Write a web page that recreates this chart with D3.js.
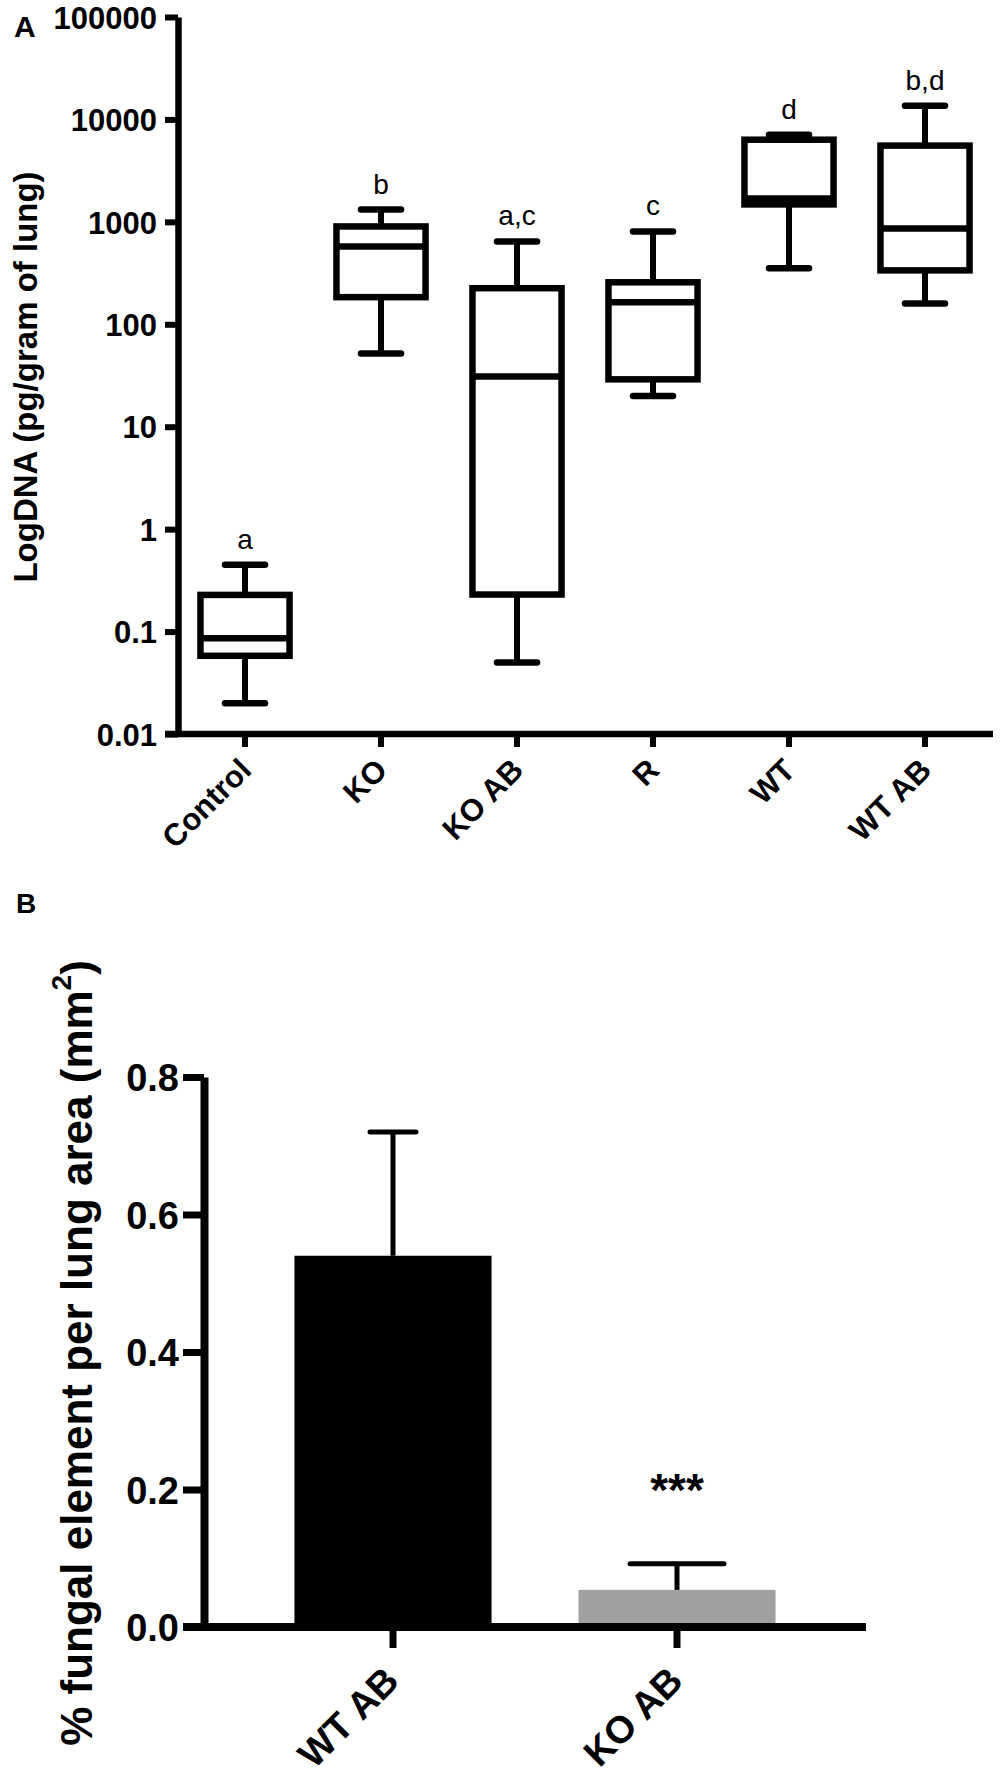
<!DOCTYPE html>
<html>
<head>
<meta charset="utf-8">
<script src="https://cdn.jsdelivr.net/npm/d3@7"></script>
<style>
  body { margin: 0; background: #fff; }
  text { font-family: "Liberation Sans", Arial, sans-serif; }
</style>
</head>
<body>
<div id="chart"></div>
<script>
// Panel A: box plots (log scale)
const categories = ["Control", "KO", "KO AB", "R", "WT", "WT AB"];
const whiskerLow  = [0.020, 52, 0.050, 20, 352, 160];
const q1          = [0.058, 184, 0.23, 29, 1480, 336];
const median      = [0.086, 576, 31, 164, 1690, 862];
const q3          = [0.228, 902, 225, 257, 6340, 5550];
const whiskerHigh = [0.45, 1320, 644, 807, 7100, 13600];
const groupLetters = ["a", "b", "a,c", "c", "d", "b,d"];
const logTicks = [0.01, 0.1, 1, 10, 100, 1000, 10000, 100000];
const logTickLabels = ["0.01", "0.1", "1", "10", "100", "1000", "10000", "100000"];

// Panel B: bars with SEM
const barGroups = ["WT AB", "KO AB"];
const barMeans = [0.54, 0.054];
const barErrTop = [0.72, 0.092];
const barStars = ["", "***"];
const linTicks = [0.0, 0.2, 0.4, 0.6, 0.8];

const width = 1000, height = 1784;
const svg = d3.select("#chart").append("svg")
  .attr("width", width).attr("height", height);

// ---------- Panel A ----------
const boxes = categories.map((c, i) => ({
  cat: c, lo: whiskerLow[i], q1: q1[i], med: median[i], q3: q3[i], hi: whiskerHigh[i], letter: groupLetters[i]
}));

const xA = d3.scaleBand().domain(categories).range([177, 993]);
const yA = d3.scaleLog().domain([0.01, 100000]).range([734, 17]);
const boxW = xA.step() * 0.655;
const capHalf = 20;
const cx = d => xA(d.cat) + xA.bandwidth() / 2;

const gA = svg.append("g");

// y axis
const yAxisA = gA.append("g")
  .attr("transform", "translate(178,0)")
  .call(d3.axisLeft(yA).tickValues(logTicks)
    .tickFormat((d, i) => logTickLabels[i]).tickSize(13).tickSizeOuter(0).tickPadding(8));
yAxisA.select(".domain").attr("stroke-width", 6.5);
yAxisA.selectAll(".tick line").attr("stroke-width", 6);
yAxisA.selectAll(".tick text").attr("font-size", 31).attr("font-weight", "bold").attr("fill", "#000").attr("dy", "0.36em");

// x axis
const xAxisA = gA.append("g")
  .attr("transform", "translate(0,734)")
  .call(d3.axisBottom(xA).tickSize(13).tickSizeOuter(0));
xAxisA.select(".domain").attr("stroke-width", 6.5).attr("d", "M165,0H993");
xAxisA.selectAll(".tick line").attr("stroke-width", 6);
xAxisA.selectAll(".tick text")
  .attr("font-size", 31).attr("font-weight", "bold").attr("fill", "#000")
  .attr("text-anchor", "end")
  .attr("y", 0).attr("dy", 0)
  .attr("transform", "translate(8,38) rotate(-45)");

// whiskers
const bx = gA.selectAll(".box").data(boxes).enter().append("g").attr("class", "box");
bx.append("line")
  .attr("x1", cx).attr("x2", cx)
  .attr("y1", d => yA(d.hi)).attr("y2", d => yA(d.q3))
  .attr("stroke", "#000").attr("stroke-width", 6);
bx.append("line")
  .attr("x1", cx).attr("x2", cx)
  .attr("y1", d => yA(d.q1)).attr("y2", d => yA(d.lo))
  .attr("stroke", "#000").attr("stroke-width", 6);
["hi", "lo"].forEach(k => {
  bx.append("line")
    .attr("x1", d => cx(d) - capHalf).attr("x2", d => cx(d) + capHalf)
    .attr("y1", d => yA(d[k])).attr("y2", d => yA(d[k]))
    .attr("stroke", "#000").attr("stroke-width", 6.5).attr("stroke-linecap", "round");
});
// box
bx.append("rect")
  .attr("x", d => cx(d) - boxW / 2).attr("width", boxW)
  .attr("y", d => yA(d.q3)).attr("height", d => yA(d.q1) - yA(d.q3))
  .attr("fill", "#fff").attr("stroke", "#000").attr("stroke-width", 6.5);
// median
bx.append("line")
  .attr("x1", d => cx(d) - boxW / 2).attr("x2", d => cx(d) + boxW / 2)
  .attr("y1", d => yA(d.med)).attr("y2", d => yA(d.med))
  .attr("stroke", "#000").attr("stroke-width", 6.5);
// letters
bx.append("text")
  .attr("x", cx).attr("y", d => yA(d.hi) - 16)
  .attr("text-anchor", "middle").attr("font-size", 28).attr("fill", "#000")
  .text(d => d.letter);

// y title
gA.append("text")
  .attr("transform", "translate(37,377) rotate(-90)")
  .attr("text-anchor", "middle").attr("font-size", 33).attr("font-weight", "bold")
  .text("LogDNA (pg/gram of lung)");

svg.append("text").attr("x", 14).attr("y", 37)
  .attr("font-size", 30).attr("font-weight", "bold").text("A");

// ---------- Panel B ----------
const bars = barGroups.map((g, i) => ({ g, mean: barMeans[i], err: barErrTop[i], star: barStars[i] }));
const xB = d3.scaleBand().domain(barGroups).range([251, 819]).paddingInner(0).paddingOuter(0);
const yB = d3.scaleLinear().domain([0, 0.8]).range([1627, 1077]);
const barW = xB.step() * 0.694;
const barFill = ["#000000", "#a0a0a0"];
const errCapHalf = [23, 47];
const bcx = d => xB(d.g) + xB.bandwidth() / 2;

const gB = svg.append("g");

// bars
gB.selectAll(".bar").data(bars).enter().append("rect")
  .attr("x", d => bcx(d) - barW / 2).attr("width", barW)
  .attr("y", d => yB(d.mean)).attr("height", d => yB(0) - yB(d.mean))
  .attr("fill", (d, i) => barFill[i]);

// error bars
gB.selectAll(".err").data(bars).enter().append("line")
  .attr("x1", bcx).attr("x2", bcx)
  .attr("y1", d => yB(d.mean)).attr("y2", d => yB(d.err))
  .attr("stroke", "#000").attr("stroke-width", 5);
gB.selectAll(".cap").data(bars).enter().append("line")
  .attr("x1", (d, i) => bcx(d) - errCapHalf[i]).attr("x2", (d, i) => bcx(d) + errCapHalf[i])
  .attr("y1", d => yB(d.err)).attr("y2", d => yB(d.err))
  .attr("stroke", "#000").attr("stroke-width", 5).attr("stroke-linecap", "round");

// stars
gB.selectAll(".star").data(bars).enter().append("text")
  .attr("x", bcx).attr("y", d => yB(d.err) - 58)
  .attr("text-anchor", "middle").attr("font-size", 46).attr("font-weight", "bold")
  .text(d => d.star);

// y axis
const yAxisB = gB.append("g")
  .attr("transform", "translate(204,0)")
  .call(d3.axisLeft(yB).tickValues(linTicks).tickFormat(d3.format(".1f"))
    .tickSize(21).tickSizeOuter(0).tickPadding(4));
yAxisB.select(".domain").attr("stroke-width", 8);
yAxisB.selectAll(".tick line").attr("stroke-width", 7);
yAxisB.selectAll(".tick text").attr("font-size", 38).attr("font-weight", "bold").attr("fill", "#000").attr("dy", "0.36em");

// x axis
const xAxisB = gB.append("g")
  .attr("transform", "translate(0,1627)")
  .call(d3.axisBottom(xB).tickSize(21).tickSizeOuter(0));
xAxisB.select(".domain").attr("stroke-width", 8).attr("d", "M183,0H866");
xAxisB.selectAll(".tick line").attr("stroke-width", 7);
xAxisB.selectAll(".tick text")
  .attr("font-size", 38).attr("font-weight", "bold").attr("fill", "#000")
  .attr("text-anchor", "end")
  .attr("y", 0).attr("dy", 0)
  .attr("transform", "translate(8,56) rotate(-45)");

// y title
const yt = gB.append("text")
  .attr("transform", "translate(92,1353) rotate(-90)")
  .attr("text-anchor", "middle").attr("font-size", 44).attr("font-weight", "bold");
yt.append("tspan").text("% fungal element per lung area (mm");
yt.append("tspan").attr("font-size", 28).attr("dy", "-0.75em").text("2");
yt.append("tspan").attr("dy", "0.48em").text(")");

svg.append("text").attr("x", 16).attr("y", 913)
  .attr("font-size", 28).attr("font-weight", "bold").text("B");
</script>
</body>
</html>
